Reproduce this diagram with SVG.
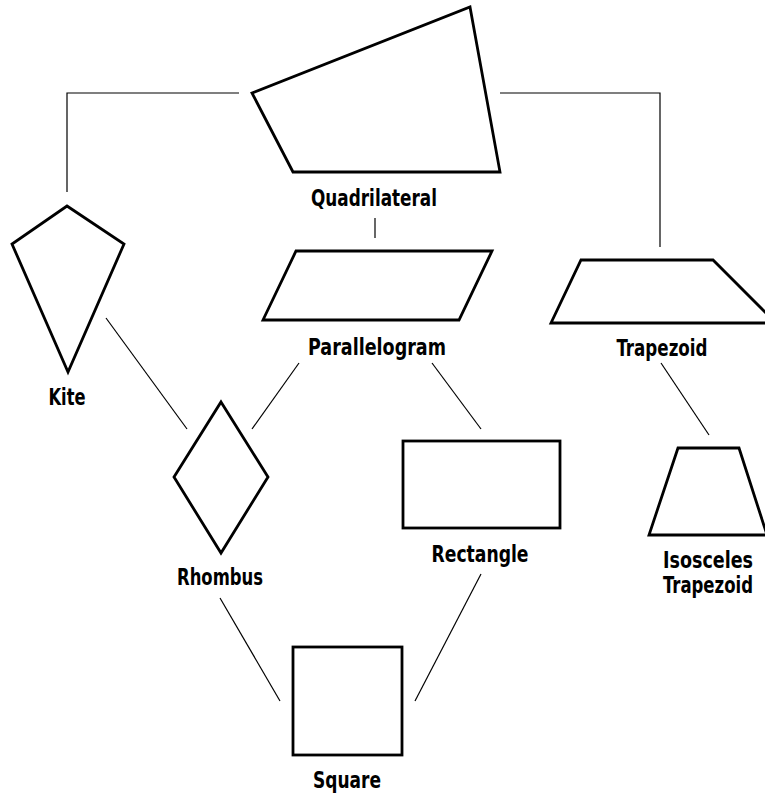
<svg xmlns="http://www.w3.org/2000/svg" width="765" height="793" viewBox="0 0 765 793">
<style>
.shape{fill:#fff;stroke:#000;stroke-width:2.8;stroke-linejoin:miter}
.conn{fill:none;stroke:#000;stroke-width:1.2}
.lbl{font-family:"Liberation Sans Narrow","DejaVu Sans Condensed","Liberation Sans",sans-serif;font-weight:bold;font-size:23px;text-anchor:middle;fill:#000}
</style>
<rect width="765" height="793" fill="#fff"/>
<g id="connectors">
<polyline class="conn" points="239,93 67,93 67,192"/>
<polyline class="conn" points="500,93 660,93 660,247"/>
<line class="conn" x1="375" y1="218" x2="375" y2="238"/>
<line class="conn" x1="106" y1="318" x2="187" y2="429"/>
<line class="conn" x1="299" y1="363" x2="252" y2="429"/>
<line class="conn" x1="432" y1="363" x2="481" y2="429"/>
<line class="conn" x1="661" y1="363" x2="709" y2="435"/>
<line class="conn" x1="220" y1="598" x2="280" y2="701"/>
<line class="conn" x1="481" y1="574" x2="415" y2="701"/>
</g>
<g id="quadrilateral">
<polygon class="shape" points="252,93 470,7 500,172 293,172"/>
<text class="lbl" x="374" y="206" textLength="126" lengthAdjust="spacingAndGlyphs">Quadrilateral</text>
</g>
<g id="kite">
<polygon class="shape" points="67,206 124,244 68,372 12,244"/>
<text class="lbl" x="67" y="405" textLength="37" lengthAdjust="spacingAndGlyphs">Kite</text>
</g>
<g id="parallelogram">
<polygon class="shape" points="296,251 492,251 459,320 263,320"/>
<text class="lbl" x="377" y="355" textLength="138" lengthAdjust="spacingAndGlyphs">Parallelogram</text>
</g>
<g id="trapezoid">
<polygon class="shape" points="581,260 713,260 776,323 551,323"/>
<text class="lbl" x="662" y="356" textLength="91" lengthAdjust="spacingAndGlyphs">Trapezoid</text>
</g>
<g id="rhombus">
<polygon class="shape" points="221,402 268,477 221,553 174,477"/>
<text class="lbl" x="220" y="585" textLength="86" lengthAdjust="spacingAndGlyphs">Rhombus</text>
</g>
<g id="rectangle">
<rect class="shape" x="403" y="441" width="157" height="87"/>
<text class="lbl" x="480" y="562" textLength="97" lengthAdjust="spacingAndGlyphs">Rectangle</text>
</g>
<g id="isosceles-trapezoid">
<polygon class="shape" points="678,448 739,448 767,535 649,535"/>
<text class="lbl" x="708" y="568" textLength="90" lengthAdjust="spacingAndGlyphs">Isosceles</text>
<text class="lbl" x="708" y="593" textLength="90" lengthAdjust="spacingAndGlyphs">Trapezoid</text>
</g>
<g id="square">
<rect class="shape" x="293" y="647" width="109" height="108"/>
<text class="lbl" x="347" y="788" textLength="68" lengthAdjust="spacingAndGlyphs">Square</text>
</g>
</svg>
